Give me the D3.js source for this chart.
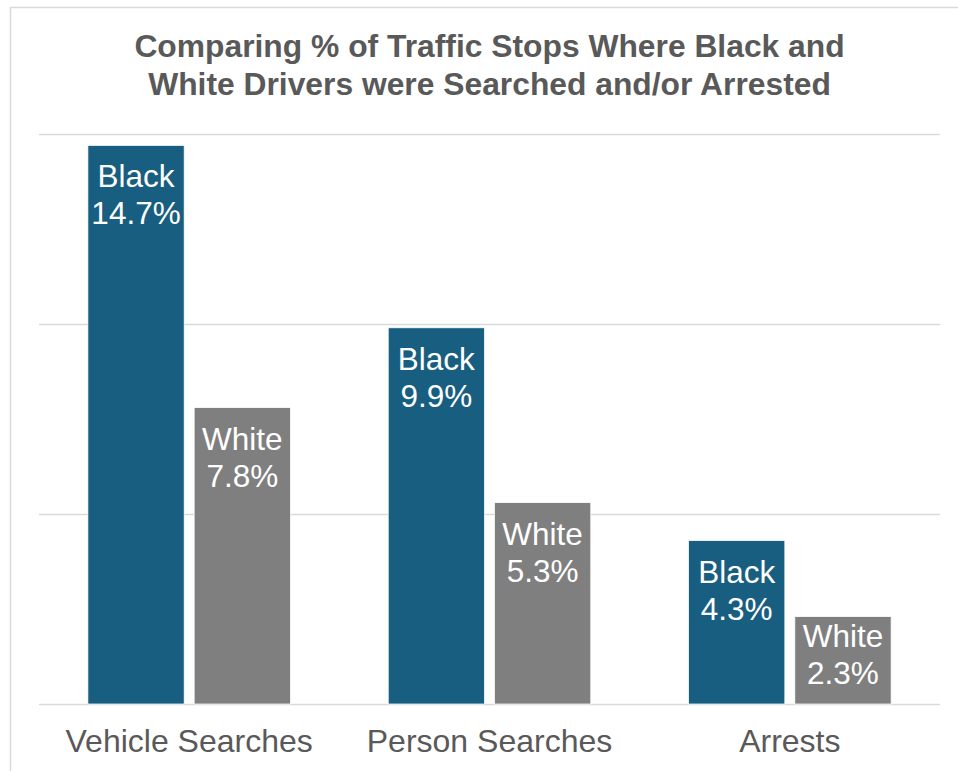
<!DOCTYPE html>
<html>
<head>
<meta charset="utf-8">
<script src="https://cdn.jsdelivr.net/npm/d3@7"></script>
<style>
  html, body { margin: 0; padding: 0; background: #fff; }
  svg { display: block; font-family: "Liberation Sans", Arial, sans-serif; }
</style>
</head>
<body>
<svg id="chart" width="958" height="771"></svg>
<script>
// Data
const categories = ["Vehicle Searches", "Person Searches", "Arrests"];
const seriesNames = ["Black", "White"];
const blackValues = [14.7, 9.9, 4.3];
const whiteValues = [7.8, 5.3, 2.3];
const yTicks = [0, 5, 10, 15];
const titleLines = [
  "Comparing % of Traffic Stops Where Black and",
  "White Drivers were Searched and/or Arrested"
];
const colors = { Black: "#185E80", White: "#7F7F7F" };

const rows = categories.map((c, i) => ({
  category: c,
  values: [
    { series: "Black", value: blackValues[i] },
    { series: "White", value: whiteValues[i] }
  ]
}));

const svg = d3.select("#chart");

// Outer chart frame
svg.append("rect")
  .attr("x", 10.5).attr("y", 7.5)
  .attr("width", 1000).attr("height", 1000)
  .attr("fill", "none").attr("stroke", "#D9D9D9").attr("stroke-width", 1.5);

const plot = { left: 39, right: 940, top: 134, bottom: 704 };

const y = d3.scaleLinear().domain([0, 15]).range([plot.bottom, plot.top]);
const x0 = d3.scaleBand().domain(categories).range([plot.left, plot.right]).padding(0);
const x1 = d3.scaleBand().domain(seriesNames)
  .range([0, x0.bandwidth()])
  .paddingInner(0.094).paddingOuter(0.46);

// Title
svg.append("g").selectAll("text")
  .data(titleLines).join("text")
  .attr("x", (plot.left + plot.right) / 2)
  .attr("y", (d, i) => 57 + i * 38)
  .attr("text-anchor", "middle")
  .attr("font-size", 31.8)
  .attr("font-weight", "bold")
  .attr("fill", "#595959")
  .text(d => d);

// Horizontal gridlines
svg.append("g").selectAll("line")
  .data(yTicks).join("line")
  .attr("x1", plot.left).attr("x2", plot.right)
  .attr("y1", d => Math.round(y(d)) + 0.5).attr("y2", d => Math.round(y(d)) + 0.5)
  .attr("stroke", "#D9D9D9").attr("stroke-width", 1.5);

// Bars
const groups = svg.append("g").selectAll("g")
  .data(rows).join("g")
  .attr("transform", d => `translate(${x0(d.category)},0)`);

groups.selectAll("rect")
  .data(d => d.values).join("rect")
  .attr("x", d => x1(d.series))
  .attr("y", d => y(d.value))
  .attr("width", x1.bandwidth())
  .attr("height", d => y(0) - y(d.value))
  .attr("fill", d => colors[d.series])
  .attr("stroke", "#ffffff").attr("stroke-width", 0.75);

// In-bar labels: series name and value, kept inside short bars
const labelOffset = d => Math.min(42, (y(0) - y(d.value)) - 57);
const labels = groups.selectAll("text.bar-label")
  .data(d => d.values).join("text")
  .attr("class", "bar-label")
  .attr("text-anchor", "middle")
  .attr("font-size", 31.5)
  .attr("fill", "#ffffff");
labels.append("tspan")
  .attr("x", d => x1(d.series) + x1.bandwidth() / 2)
  .attr("y", d => y(d.value) + labelOffset(d))
  .text(d => d.series);
labels.append("tspan")
  .attr("x", d => x1(d.series) + x1.bandwidth() / 2)
  .attr("y", d => y(d.value) + labelOffset(d) + 37)
  .text(d => d.value.toFixed(1) + "%");

// Category axis labels
const xAxis = d3.axisBottom(x0).tickSize(0).tickPadding(0);
const gx = svg.append("g")
  .attr("transform", `translate(0,${plot.bottom})`)
  .call(xAxis);
gx.select(".domain").remove();
gx.selectAll("text")
  .attr("dy", 0).attr("y", 48)
  .attr("font-size", 32)
  .attr("font-family", "Liberation Sans, Arial, sans-serif")
  .attr("fill", "#595959");
</script>
</body>
</html>
